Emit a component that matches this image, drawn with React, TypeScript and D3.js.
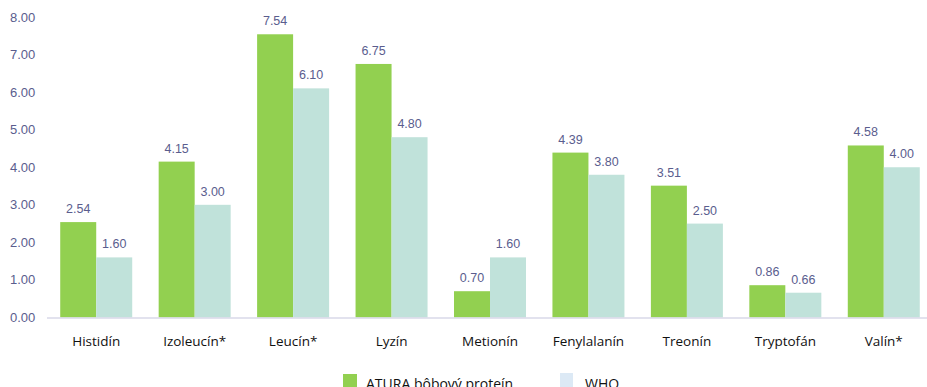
import React from "react";
import * as d3 from "d3";

const categories = ["Histidín", "Izoleucín*", "Leucín*", "Lyzín", "Metionín", "Fenylalanín", "Treonín", "Tryptofán", "Valín*"];
const atura = [2.54, 4.15, 7.54, 6.75, 0.7, 4.39, 3.51, 0.86, 4.58];
const who = [1.6, 3.0, 6.1, 4.8, 1.6, 3.8, 2.5, 0.66, 4.0];
const yTicks = [0, 1, 2, 3, 4, 5, 6, 7, 8];
const seriesNames = ["ATURA bôbový proteín", "WHO"];

const W = 927, H = 387;
const left = 47, right = 933, top = 17, bottom = 317.5;

export default function App() {
  const x = d3.scaleBand<string>().domain(categories).range([left, right]).paddingInner(0).paddingOuter(0);
  const y = d3.scaleLinear().domain([0, 8]).range([bottom, top]);
  const bw = 36;
  const labelColor = "#5a5d8e";
  return (
    <svg width={W} height={H} style={{ position: "absolute", left: 0, top: 0 }}>
      <rect x={0} y={0} width={W} height={H} fill="#fff" />
      {yTicks.map((t) => (
        <text key={t} x={10} y={y(t)} dy="0.35em" fontFamily="Liberation Sans, Arial, sans-serif" fontSize={13} fill={labelColor}>
          {t.toFixed(2)}
        </text>
      ))}
      {categories.map((c, i) => {
        const cx = (x(c) as number) + x.bandwidth() / 2;
        return (
          <g key={c}>
            <rect x={cx - bw} y={y(atura[i])} width={bw} height={bottom - y(atura[i])} fill="#92d050" />
            <rect x={cx} y={y(who[i])} width={bw} height={bottom - y(who[i])} fill="#c0e2da" />
            <text x={cx - bw / 2} y={y(atura[i]) - 9} textAnchor="middle" fontFamily="Liberation Sans, Arial, sans-serif" fontSize={12.5} fill={labelColor}>
              {atura[i].toFixed(2)}
            </text>
            <text x={cx + bw / 2} y={y(who[i]) - 9} textAnchor="middle" fontFamily="Liberation Sans, Arial, sans-serif" fontSize={12.5} fill={labelColor}>
              {who[i].toFixed(2)}
            </text>
            <text x={cx} y={346} textAnchor="middle" fontFamily="Open Sans, Noto Sans, sans-serif" fontSize={13.5} fill="#111">
              {c}
            </text>
          </g>
        );
      })}
      <line x1={left} x2={927} y1={bottom + 0.5} y2={bottom + 0.5} stroke="#d9d9e8" strokeWidth={1.5} />
      <rect x={343} y={374} width={14} height={14} fill="#92d050" />
      <text x={366} y={389} fontFamily="Open Sans, Noto Sans, sans-serif" fontSize={14} fill="#111">{seriesNames[0]}</text>
      <rect x={560} y={373} width={13} height={14} fill="#dce9f5" />
      <text x={585} y={389} fontFamily="Open Sans, Noto Sans, sans-serif" fontSize={14} fill="#111">{seriesNames[1]}</text>
    </svg>
  );
}
